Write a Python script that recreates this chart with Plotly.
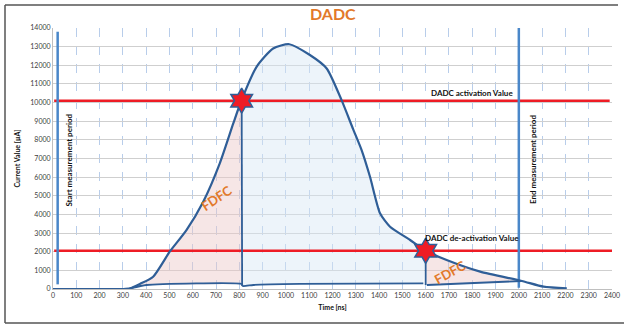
import plotly.graph_objects as go
import numpy as np

# ---- data ----
time_ns = [0, 100, 200, 300, 330, 373, 430, 501, 573, 645, 716, 774, 810,
           874, 945, 1014, 1103, 1175, 1239, 1289, 1325, 1361, 1404, 1447,
           1533, 1600, 1690, 1834, 2013, 2106, 2206]
current_uA = [0, 0, 0, 0, 30, 270, 660, 2000, 3160, 4680, 6740, 8880, 10150,
              11920, 12900, 13130, 12550, 11830, 10130, 8560, 7450, 6020, 4060, 3340,
              2630, 2050, 1555, 930, 430, 125, 35]

base_time = [330, 401, 810, 815, 860, 1060, 1590, 1605, 2013]
base_current = [30, 215, 270, 160, 215, 270, 300, 215, 430]

activation_value = 10100
deactivation_value = 2050
activation_time = 810
deactivation_time = 1600

start_period_time = 20
end_period_time = 2000
period_current = [250, 13800]
end_period_current = [70, 14000]

x_ticks = list(range(0, 2401, 100))
y_ticks = list(range(0, 14001, 1000))

# ---- helpers ----
t = np.array(time_ns)
c = np.array(current_uA)
bt = np.array(base_time)
bc = np.array(base_current)


def region(t0, t1, b0, b1):
    m = (t >= t0) & (t <= t1)
    mb = (bt >= b0) & (bt <= b1)
    xs = list(t[m]) + list(bt[mb][::-1])
    ys = list(c[m]) + list(bc[mb][::-1])
    return xs + [xs[0]], ys + [ys[0]]


DARK = "#2F5E97"
MEAS = "#4A87C9"
RED = "#EE1C25"
ORANGE = "#E2792A"
FONT = "Lato"

fig = go.Figure()

# fills
px1, py1 = region(330, activation_time, 330, 815)
fig.add_trace(go.Scatter(x=px1, y=py1, fill="toself", mode="none",
                         fillcolor="rgba(236,200,200,0.45)", hoverinfo="skip"))
px2, py2 = region(activation_time, deactivation_time, 815, 1590)
fig.add_trace(go.Scatter(x=px2, y=py2, fill="toself", mode="none",
                         fillcolor="rgba(215,230,245,0.45)", hoverinfo="skip"))
px3, py3 = region(deactivation_time, 2013, 1605, 2013)
fig.add_trace(go.Scatter(x=px3, y=py3, fill="toself", mode="none",
                         fillcolor="rgba(236,200,200,0.45)", hoverinfo="skip"))

# threshold lines
fig.add_trace(go.Scatter(x=[5, 2390], y=[activation_value] * 2, mode="lines",
                         line=dict(color=RED, width=2.5)))
fig.add_trace(go.Scatter(x=[5, 2400], y=[deactivation_value] * 2, mode="lines",
                         line=dict(color=RED, width=2.5)))

# measurement period lines
fig.add_trace(go.Scatter(x=[start_period_time] * 2, y=period_current, mode="lines",
                         line=dict(color=MEAS, width=2.5)))
fig.add_trace(go.Scatter(x=[end_period_time] * 2, y=end_period_current, mode="lines",
                         line=dict(color=MEAS, width=2.5)))

# outline of regions
fig.add_trace(go.Scatter(x=base_time[:7], y=base_current[:7], mode="lines",
                         line=dict(color=DARK, width=1.8, shape="spline", smoothing=0.5)))
fig.add_trace(go.Scatter(x=base_time[7:], y=base_current[7:], mode="lines",
                         line=dict(color=DARK, width=1.8)))
fig.add_trace(go.Scatter(x=[activation_time, activation_time + 2], y=[activation_value, 160],
                         mode="lines", line=dict(color=DARK, width=1.8)))
fig.add_trace(go.Scatter(x=[deactivation_time] * 2, y=[deactivation_value, 215],
                         mode="lines", line=dict(color=DARK, width=1.8)))

# main current curve
fig.add_trace(go.Scatter(x=time_ns, y=current_uA, mode="lines",
                         line=dict(color=DARK, width=2.2, shape="spline", smoothing=0.6)))

# stars
fig.add_trace(go.Scatter(x=[activation_time, deactivation_time],
                         y=[activation_value, deactivation_value], mode="markers",
                         marker=dict(symbol="hexagram", size=19, color=RED,
                                     line=dict(color=DARK, width=1.5))))

ann = [
    dict(x=1800, y=10530, text="<b>DADC activation Value</b>", showarrow=False,
         font=dict(size=8, color="#111", family=FONT)),
    dict(x=1800, y=2730, text="<b>DADC de-activation Value</b>", showarrow=False,
         font=dict(size=8, color="#111", family=FONT)),
    dict(x=67, y=6920, text="<b>Start measurement period</b>", showarrow=False,
         textangle=-90, font=dict(size=8, color="#111", family=FONT)),
    dict(x=2061, y=6920, text="<b>End measurement period</b>", showarrow=False,
         textangle=-90, font=dict(size=8, color="#111", family=FONT)),
    dict(x=702, y=4860, text="<b>FDFC</b>", showarrow=False, textangle=-34,
         font=dict(size=13, color=ORANGE, family=FONT)),
    dict(x=1705, y=930, text="<b>FDFC</b>", showarrow=False, textangle=-29,
         font=dict(size=13, color=ORANGE, family=FONT)),
    dict(x=0.5, y=1.054, xref="paper", yref="paper", text="<b>DADC</b>", showarrow=False,
         xanchor="center", yanchor="middle",
         font=dict(size=16, color=ORANGE, family=FONT)),
]

# outer frame (left, top, bottom)
L, B, W, H = 53.0, 39.0, 559.0, 261.0
def pxp(px):
    return (px - L) / W
def pyp(py):
    return (328 - B - py) / H

shapes = [
    dict(type="line", xref="paper", yref="paper", x0=pxp(5), x1=pxp(5), y0=pyp(5), y1=pyp(323),
         line=dict(color="#555", width=1.5)),
    dict(type="line", xref="paper", yref="paper", x0=pxp(5), x1=pxp(618), y0=pyp(5), y1=pyp(5),
         line=dict(color="#555", width=1.5)),
    dict(type="line", xref="paper", yref="paper", x0=pxp(5), x1=pxp(624), y0=pyp(323), y1=pyp(323),
         line=dict(color="#555", width=1.5)),
]

fig.update_layout(
    width=624, height=328,
    margin=dict(l=53, r=12, t=28, b=39, autoexpand=False),
    paper_bgcolor="white", plot_bgcolor="white",
    showlegend=False,
    annotations=ann, shapes=shapes,
    font=dict(family=FONT, size=7, color="#333"),
)
fig.update_xaxes(range=[0, 2400], tickvals=x_ticks, ticktext=[str(v) for v in x_ticks],
                 showgrid=True, gridcolor="#B8CDEA", griddash="dash", gridwidth=1,
                 showline=True, linecolor="#BFBFBF", zeroline=False, automargin=False,
                 tickfont=dict(size=7, color="#404040"), ticks="",
                 title=dict(text="<b>Time [ns]</b>", font=dict(size=7, color="#111"), standoff=6))
fig.update_yaxes(range=[0, 14000], tickvals=y_ticks, ticktext=[str(v) for v in y_ticks],
                 showgrid=True, gridcolor="#CFCFCF", gridwidth=1,
                 showline=True, linecolor="#BFBFBF", zeroline=False, automargin=False,
                 tickfont=dict(size=7, color="#404040"), ticks="",
                 title=dict(text="<b>Current Value [µA]</b>", font=dict(size=7, color="#111"), standoff=8))

fig.write_html("out.html")
